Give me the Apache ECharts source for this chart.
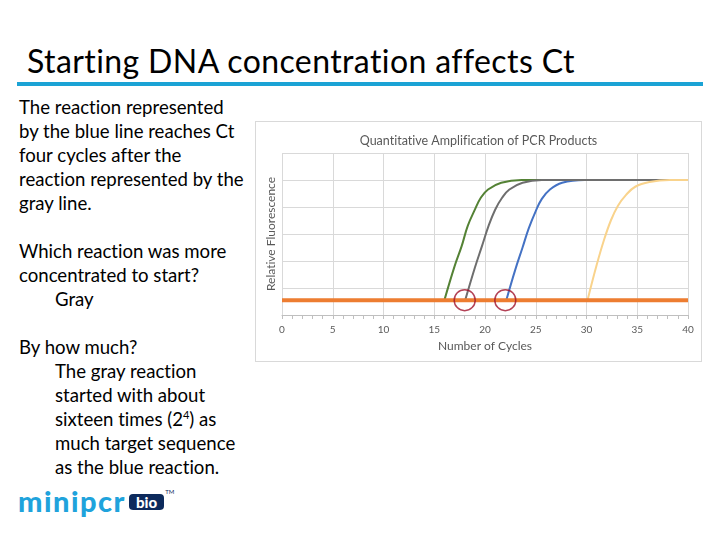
<!DOCTYPE html>
<html>
<head>
  <meta charset="utf-8">
  <title>Starting DNA concentration affects Ct</title>
  <script src="https://cdn.jsdelivr.net/npm/echarts@6/dist/echarts.min.js"></script>
  <style>
    body { margin: 0; width: 720px; height: 540px; background: #fff; position: relative; overflow: hidden; font-family: Lato, "Open Sans", sans-serif; color: #000; font-variant-ligatures: none; }
    .abs { position: absolute; }
    #title { left: 27px; top: 45px; font-size: 32px; line-height: 32px; letter-spacing: 0.4px; white-space: nowrap; }
    #rule { left: 17px; top: 82px; width: 686px; height: 4px; background: #1ba3d5; }
    .para { left: 19px; font-size: 18.6px; line-height: 24px; white-space: nowrap; }
    .ind { padding-left: 36px; }
    sup { font-size: 11px; line-height: 0; vertical-align: 7px; }
    #main { left: 255px; top: 121px; width: 447px; height: 241px; border: 1px solid #d9d9d9; box-sizing: border-box; }
    #logo { left: 18px; top: 483px; height: 40px; white-space: nowrap; }
    #logo .word { font-size: 29px; font-weight: 900; color: #1fa3dc; letter-spacing: 1.5px; display: inline-block; }
    #logo .bio { display: inline-block; background: #0d2a5c; color: #fff; font-size: 15px; font-weight: 900; border-radius: 4px; padding: 0 7px; line-height: 16px; vertical-align: 4px; margin-left: 3px; }
    #logo .tm { font-size: 6px; vertical-align: 18px; color: #0d2a5c; margin-left: 1px; }
  </style>
</head>
<body>
<div id="title" class="abs">Starting DNA concentration affects Ct</div>
<div id="rule" class="abs"></div>

<div class="abs para" style="top:95px">The reaction represented<br>by the blue line reaches Ct<br>four cycles after the<br>reaction represented by the<br>gray line.</div>
<div class="abs para" style="top:239px">Which reaction was more<br>concentrated to start?<br><span class="ind">Gray</span></div>
<div class="abs para" style="top:335px">By how much?<br><span class="ind">The gray reaction</span><br><span class="ind">started with about</span><br><span class="ind">sixteen times (2<sup>4</sup>) as</span><br><span class="ind">much target sequence</span><br><span class="ind">as the blue reaction.</span></div>

<div id="main" class="abs"></div>

<div id="logo" class="abs"><span class="word">minipcr</span><span class="bio">bio</span><span class="tm">TM</span></div>

<script type="text/javascript">
  // cycle / relative fluorescence
  var greenX = [16.0, 17.0, 17.7, 18.3, 19.0, 19.6, 20.3, 21.6, 23.6, 40];
  var greenY = [0.11, 0.36, 0.51, 0.66, 0.78, 0.87, 0.93, 0.98, 1.0, 1.0];
  var grayX = [18.05, 19.0, 19.7, 20.35, 21.0, 21.7, 22.4, 23.7, 25.6, 40];
  var grayY = [0.11, 0.35, 0.51, 0.66, 0.78, 0.87, 0.93, 0.98, 1.0, 1.0];
  var blueX = [22.1, 23.0, 23.7, 24.3, 25.0, 25.6, 26.4, 27.6, 29.8, 40];
  var blueY = [0.11, 0.34, 0.50, 0.64, 0.77, 0.86, 0.93, 0.98, 1.0, 1.0];
  var yellowX = [30.1, 31.0, 31.7, 32.4, 33.1, 33.9, 34.8, 36.2, 38.2, 40];
  var yellowY = [0.11, 0.37, 0.55, 0.70, 0.81, 0.89, 0.95, 0.985, 1.0, 1.0];
  var thresholdX = [0, 40];
  var threshold = 0.11;
  var ctCycles = [18, 22];

  function pairs(xs, ys) {
    var out = [];
    for (var i = 0; i < xs.length; i++) {
      out.push([xs[i], ys[i]]);
    }
    return out;
  }

  function curve(name, xs, ys, color) {
    return {
      name: name,
      type: 'line',
      data: pairs(xs, ys),
      smooth: 0.4,
      showSymbol: false,
      lineStyle: { color: color, width: 2 },
      itemStyle: { color: color }
    };
  }

  let myChart = echarts.init(document.getElementById('main'));
  let option = {
    animation: false,
    textStyle: { fontFamily: 'Lato' },
    title: {
      text: 'Quantitative Amplification of PCR Products',
      left: 'center',
      top: 7,
      textStyle: { fontSize: 12.5, fontWeight: 'normal', color: '#595959', fontFamily: 'Lato' }
    },
    grid: { left: 26, right: 13, top: 31, bottom: 46 },
    xAxis: {
      type: 'value',
      min: 0,
      max: 40,
      interval: 5,
      name: 'Number of Cycles',
      nameLocation: 'middle',
      nameGap: 25,
      nameTextStyle: { fontSize: 12, color: '#595959' },
      axisLine: { lineStyle: { color: '#bfbfbf' } },
      axisTick: { show: true, length: 4, lineStyle: { color: '#bfbfbf' } },
      minorTick: { show: true, splitNumber: 5, length: 4, lineStyle: { color: '#bfbfbf' } },
      axisLabel: { fontSize: 10, color: '#595959', margin: 10 },
      splitLine: { show: true, lineStyle: { color: '#d9d9d9' } }
    },
    yAxis: {
      type: 'value',
      min: 0,
      max: 1.2,
      interval: 0.2,
      name: 'Relative Fluorescence',
      nameLocation: 'middle',
      nameRotate: 90,
      nameGap: 5,
      nameTextStyle: { fontSize: 12, color: '#595959' },
      axisLine: { show: false },
      axisTick: { show: false },
      axisLabel: { show: false },
      splitLine: { show: true, lineStyle: { color: '#d9d9d9' } }
    },
    series: [
      curve('green', greenX, greenY, '#548235'),
      curve('blue', blueX, blueY, '#4472c4'),
      curve('gray', grayX, grayY, '#6e6e6e'),
      curve('yellow', yellowX, yellowY, '#f9d38c'),
      {
        name: 'threshold',
        type: 'line',
        data: thresholdX.map(function (x) { return [x, threshold]; }),
        showSymbol: false,
        lineStyle: { color: '#ed7d31', width: 4 },
        z: 3
      },
      {
        name: 'Ct',
        type: 'scatter',
        data: ctCycles.map(function (x) { return [x, threshold]; }),
        symbol: 'circle',
        symbolSize: 21,
        itemStyle: { color: 'rgba(0,0,0,0)', borderColor: '#a0132c', borderWidth: 1.5 },
        z: 4
      }
    ]
  };
  myChart.setOption(option);
</script>
</body>
</html>
